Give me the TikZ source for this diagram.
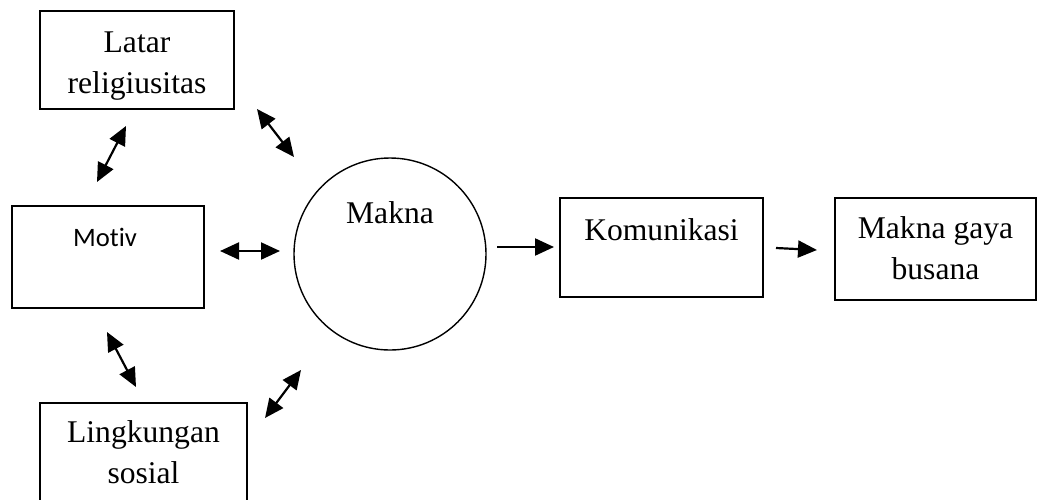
\documentclass[tikz,border=0pt]{standalone}
\usepackage{fontspec}
\setmainfont{Liberation Serif}
\newfontfamily\motivfont[Ligatures=NoCommon]{Carlito}
\usetikzlibrary{arrows.meta,positioning}

\begin{document}
\begin{tikzpicture}[
    x=0.5pt,y=-0.5pt,
    box/.style={draw=black,line width=1pt,inner sep=0pt},
    lbl/.style={inner sep=0pt,align=center,font=\fontsize{15.8}{20.5}\selectfont},
    arr/.style={-{Triangle[length=9.5pt,width=8.5pt]},line width=1.1pt},
    biarr/.style={{Triangle[length=9.5pt,width=8.5pt]}-{Triangle[length=9.5pt,width=8.5pt]},line width=1.1pt}
]
\useasboundingbox (0,0) rectangle (1039,499);

\node[box,minimum width=97pt,minimum height=49pt] (lat) at (137,60) {};
\node[lbl,below=10.5pt of lat.north] (latT) {Latar\\religiusitas};

\node[box,minimum width=96pt,minimum height=51pt] (mot) at (108,257) {};
\node[inner sep=0pt,font=\motivfont\fontsize{13.3}{16}\selectfont,below=11.4pt of mot.north,xshift=-1.5pt] (motT) {Motiv};

\node[box,minimum width=103.5pt,minimum height=51pt] (lin) at (143.5,454) {};
\node[lbl,below=9.2pt of lin.north] (linT) {Lingkungan\\sosial};

\node[circle,draw=black,line width=0.7pt,minimum size=96pt,inner sep=0pt] (mak) at (390,254) {};
\node[lbl,below=21.7pt of mak.north] (makT) {Makna};

\node[box,minimum width=101.5pt,minimum height=49.5pt] (kom) at (661.5,247.5) {};
\node[lbl,below=10.7pt of kom.north] (komT) {Komunikasi};

\node[box,minimum width=100.5pt,minimum height=51pt] (bus) at (935.5,249) {};
\node[lbl,below=9.7pt of bus.north] (busT) {Makna gaya\\busana};

% free-standing arrows between the blocks
\coordinate (latMotA) at (97,182);   \coordinate (latMotB) at (126,126);
\coordinate (latMakA) at (257,109);  \coordinate (latMakB) at (294,157);
\coordinate (motMakA) at (220,251);  \coordinate (motMakB) at (280,251);
\coordinate (motLinA) at (107,332);  \coordinate (motLinB) at (136,387);
\coordinate (linMakA) at (265,418);  \coordinate (linMakB) at (301,370);
\coordinate (makKomA) at (497,247);  \coordinate (makKomB) at (554,247);
\coordinate (komBusA) at (776,248);  \coordinate (komBusB) at (817,250);

\draw[biarr] (latMotA) -- (latMotB);
\draw[biarr] (latMakA) -- (latMakB);
\draw[biarr] (motMakA) -- (motMakB);
\draw[biarr] (motLinA) -- (motLinB);
\draw[biarr] (linMakA) -- (linMakB);
\draw[arr] (makKomA) -- (makKomB);
\draw[arr] (komBusA) -- (komBusB);
\end{tikzpicture}
\end{document}
